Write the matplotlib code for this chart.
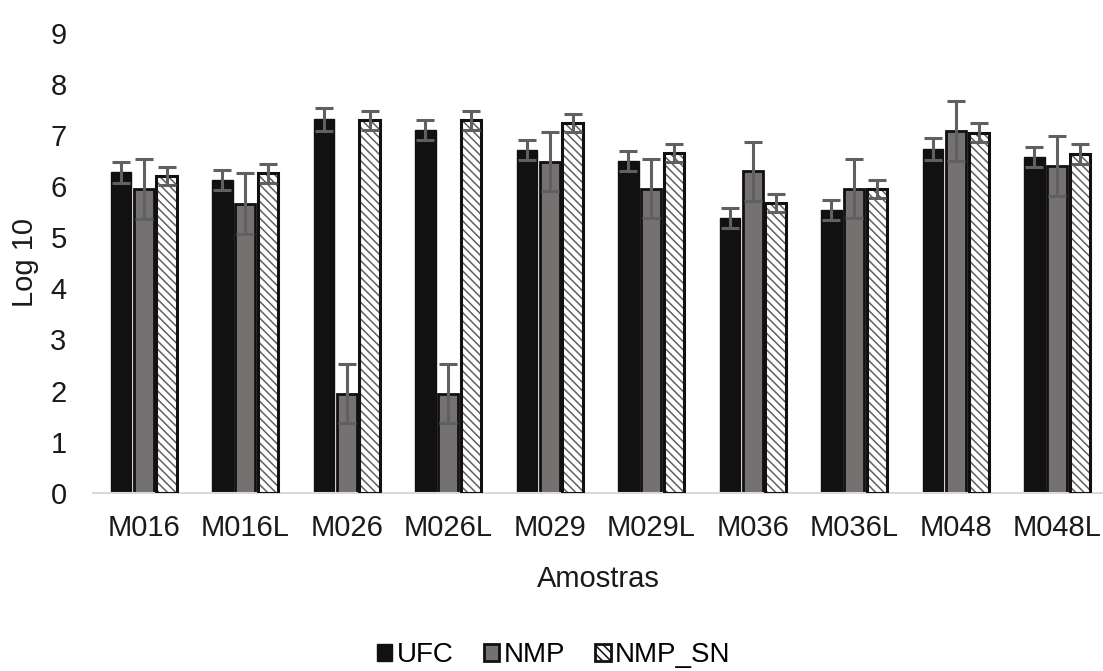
import numpy as np
import matplotlib
matplotlib.use("Agg")
import matplotlib.pyplot as plt
from matplotlib.patches import Patch

plt.rcParams['font.family'] = ['Liberation Sans', 'DejaVu Sans']

amostras = ['M016', 'M016L', 'M026', 'M026L', 'M029', 'M029L', 'M036', 'M036L', 'M048', 'M048L']
ufc = [6.27, 6.12, 7.31, 7.10, 6.71, 6.49, 5.38, 5.53, 6.73, 6.57]
ufc_err = [0.20, 0.20, 0.23, 0.20, 0.19, 0.20, 0.19, 0.20, 0.21, 0.20]
nmp = [5.94, 5.66, 1.94, 1.94, 6.48, 5.95, 6.29, 5.95, 7.08, 6.40]
nmp_err = [0.59, 0.59, 0.58, 0.58, 0.58, 0.58, 0.58, 0.58, 0.59, 0.59]
nmp_sn = [6.20, 6.25, 7.29, 7.29, 7.24, 6.65, 5.67, 5.95, 7.05, 6.63]
nmp_sn_err = [0.18, 0.19, 0.18, 0.18, 0.18, 0.18, 0.17, 0.18, 0.19, 0.19]

x = np.arange(len(amostras))
w = 0.2
off = 0.225
err_kw = dict(ecolor='#606060', elinewidth=2.2, capsize=6.5, capthick=2.2)
txt = '#1a1a1a'

fig = plt.figure(figsize=(11.03, 6.71), dpi=100)
ax = fig.add_axes([93/1103, 1 - 492.7/671, 1010/1103, (492.7 - 33)/671])

ax.bar(x - off, ufc, w, color='#111111', edgecolor='#111111', linewidth=1,
       yerr=ufc_err, error_kw=err_kw, zorder=2)
ax.bar(x, nmp, w, color='#767171', edgecolor='#111111', linewidth=2,
       yerr=nmp_err, error_kw=err_kw, zorder=2)
# hatched fill first, then black outline on top
plt.rcParams['hatch.linewidth'] = 1.1
ax.bar(x + off, nmp_sn, w, color='white', edgecolor='#606060', hatch='\\\\\\\\',
       linewidth=0, zorder=2)
ax.bar(x + off, nmp_sn, w, color='none', edgecolor='#111111', linewidth=2.2,
       yerr=nmp_sn_err, error_kw=err_kw, zorder=3)

ax.set_xlim(-0.5, 9.45)
ax.set_ylim(0, 9)
ax.set_yticks(range(0, 10))
ax.set_xticks(x)
ax.set_xticklabels(amostras)
ax.tick_params(axis='both', length=0, labelsize=21, colors=txt)
ax.tick_params(axis='y', pad=19)
ax.tick_params(axis='x', pad=15)
for s in ['top', 'right', 'left']:
    ax.spines[s].set_visible(False)
ax.spines['bottom'].set_color('#d9d9d9')
ax.spines['bottom'].set_linewidth(1.5)

ax.set_ylabel('Log 10', fontsize=21, color=txt, labelpad=8)
ax.set_xlabel('Amostras', fontsize=21, color=txt, labelpad=17)

handles = [Patch(facecolor='#111111', edgecolor='#111111'),
           Patch(facecolor='#767171', edgecolor='#111111', linewidth=2),
           Patch(facecolor='white', edgecolor='#111111', hatch='\\\\\\\\', linewidth=2)]
fig.legend(handles, ['UFC', 'NMP', 'NMP_SN'], loc='center', bbox_to_anchor=(0.502, 1 - 655/671),
           ncol=3, frameon=False, fontsize=20, handlelength=0.55, handleheight=0.55,
           handletextpad=0.15, columnspacing=1.1)

fig.savefig('out.png', dpi=100)
